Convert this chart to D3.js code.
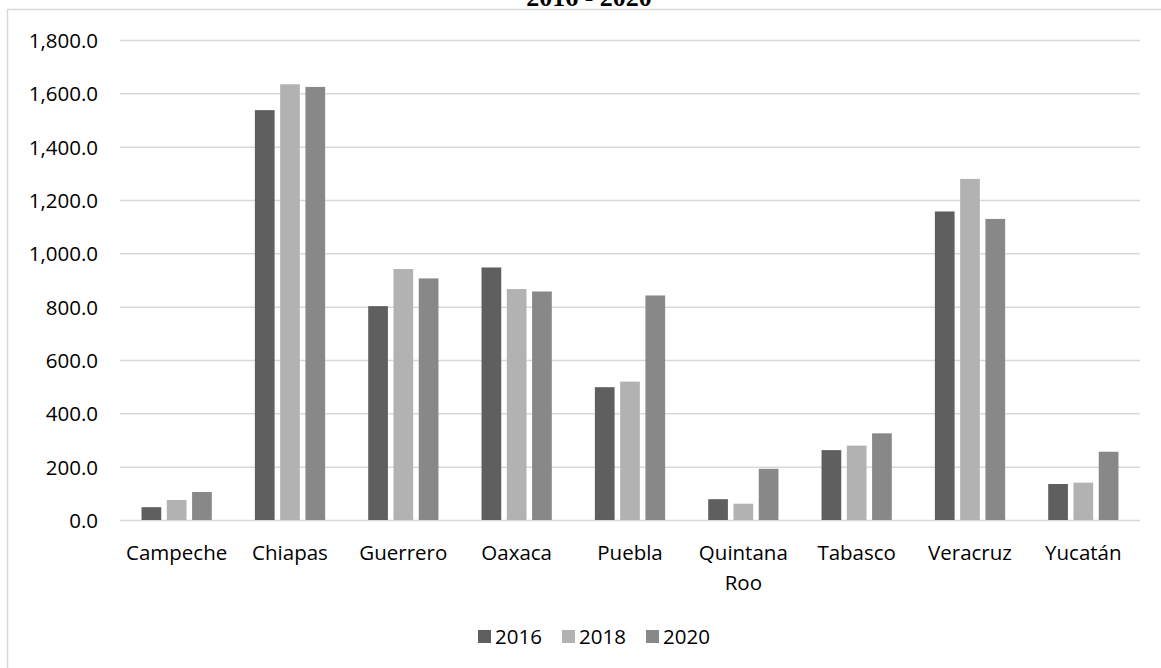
<!DOCTYPE html>
<html>
<head>
<meta charset="utf-8">
<script src="https://cdn.jsdelivr.net/npm/d3@7"></script>
<style>
  html, body { margin: 0; padding: 0; background: #fff; }
  svg { display: block; }
</style>
</head>
<body>
<svg id="chart" width="1161" height="668"></svg>
<script>
// Estados y años
const categories = ["Campeche", "Chiapas", "Guerrero", "Oaxaca", "Puebla", "Quintana Roo", "Tabasco", "Veracruz", "Yucatán"];
const years = ["2016", "2018", "2020"];
const values2016 = [48, 1537, 802, 947, 498, 78, 262, 1157, 135];
const values2018 = [75, 1634, 941, 866, 519, 61, 279, 1279, 140];
const values2020 = [105, 1624, 906, 857, 842, 192, 325, 1129, 256];
const yTicks = [0, 200, 400, 600, 800, 1000, 1200, 1400, 1600, 1800];
const colors = ["#5f5f5f", "#b2b2b2", "#888888"];
const titleText = "2016 - 2020";

const seriesValues = [values2016, values2018, values2020];
const rows = categories.map((c, i) => ({ cat: c, vals: years.map((y, j) => ({ year: y, v: seriesValues[j][i] })) }));

const svg = d3.select("#chart");
const FONT = "'Open Sans', 'Noto Sans', sans-serif";

// chart frame
svg.append("rect")
  .attr("x", 7.5).attr("y", 9.5)
  .attr("width", 1170).attr("height", 680)
  .attr("fill", "#fff").attr("stroke", "#d9d9d9").attr("stroke-width", 1.5);

// title, second line only (sits above the frame)
svg.append("text")
  .attr("x", 589).attr("y", 6)
  .attr("text-anchor", "middle")
  .attr("font-family", "'Liberation Serif', 'Times New Roman', serif")
  .attr("font-weight", "bold")
  .attr("font-size", 26)
  .attr("fill", "#000")
  .text(titleText);

const plot = { left: 120, right: 1140, top: 40, bottom: 520 };

const x0 = d3.scaleBand().domain(categories).range([plot.left, plot.right]).padding(0);
const bw = x0.bandwidth();
const x1 = d3.scaleBand().domain(years).range([bw * 0.19, bw * 0.81]).paddingInner(0.22).paddingOuter(0);
const y = d3.scaleLinear().domain([0, 1800]).range([plot.bottom, plot.top]);
const color = d3.scaleOrdinal().domain(years).range(colors);

// gridlines + y labels
const yAxis = d3.axisLeft(y).tickValues(yTicks).tickFormat(d3.format(",.1f"))
  .tickSize(-(plot.right - plot.left)).tickPadding(22);
const gy = svg.append("g").attr("transform", `translate(${plot.left},0)`).call(yAxis);
gy.select(".domain").remove();
gy.selectAll(".tick line").attr("stroke", "#d9d9d9").attr("stroke-width", 1.5);
gy.selectAll(".tick text")
  .attr("font-family", FONT).attr("font-size", 20.5).attr("fill", "#000")
  .attr("dy", "0.36em");

// bars
const groups = svg.append("g").selectAll("g")
  .data(rows).join("g")
  .attr("transform", d => `translate(${x0(d.cat)},0)`);
groups.selectAll("rect")
  .data(d => d.vals).join("rect")
  .attr("x", d => x1(d.year))
  .attr("width", x1.bandwidth())
  .attr("y", d => y(d.v))
  .attr("height", d => y(0) - y(d.v))
  .attr("fill", d => color(d.year));

// category labels (wrapped)
const xl = svg.append("g").selectAll("text")
  .data(categories).join("text")
  .attr("x", d => x0(d) + bw / 2)
  .attr("y", 560)
  .attr("text-anchor", "middle")
  .attr("font-family", FONT).attr("font-size", 20.5).attr("fill", "#000");
xl.each(function(d) {
  const words = d === "Quintana Roo" ? ["Quintana", "Roo"] : [d];
  const t = d3.select(this);
  words.forEach((w, i) => {
    t.append("tspan").attr("x", x0(d) + bw / 2).attr("dy", i === 0 ? 0 : 30).text(w);
  });
});

// legend
const legendX = [478, 562, 646];
const lg = svg.append("g").selectAll("g")
  .data(years).join("g")
  .attr("transform", (d, i) => `translate(${legendX[i]},630)`);
lg.append("rect").attr("x", 0).attr("y", 0).attr("width", 13).attr("height", 13)
  .attr("fill", d => color(d));
lg.append("text").attr("x", 17).attr("y", 13.5)
  .attr("font-family", FONT).attr("font-size", 20.5).attr("fill", "#000")
  .text(d => d);
</script>
</body>
</html>
